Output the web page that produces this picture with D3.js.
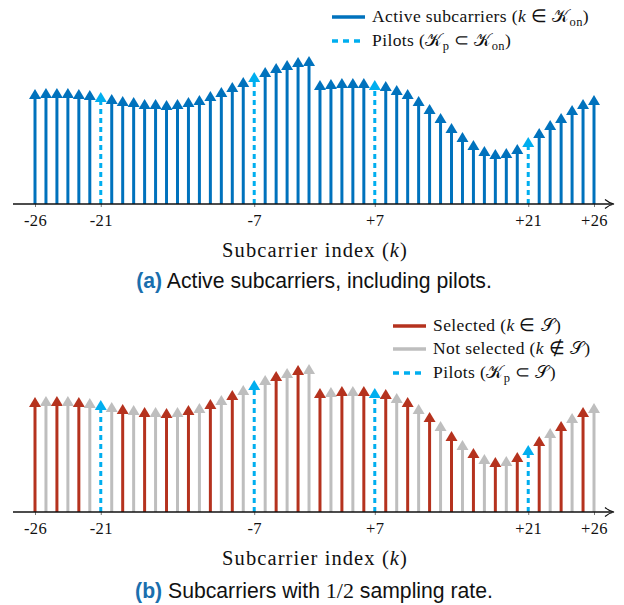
<!DOCTYPE html>
<html>
<head>
<meta charset="utf-8">
<script src="https://cdn.jsdelivr.net/npm/d3@7"></script>
<style>
  html, body { margin: 0; padding: 0; background: #fff; }
  svg { display: block; }
  .serif { font-family: "Liberation Serif", "Times New Roman", serif; }
  .sans { font-family: "Liberation Sans", Arial, sans-serif; }
</style>
</head>
<body>
<svg id="chart" width="624" height="605"></svg>
<script>
// Channel magnitude on each of the 52 active subcarriers (slot 0 = leftmost stem)
const amplitudes = [
  1.15, 1.16, 1.16, 1.16, 1.15, 1.14, 1.12, 1.10, 1.08, 1.07,
  1.05, 1.05, 1.04, 1.05, 1.07, 1.09, 1.13, 1.17, 1.22, 1.27,
  1.32, 1.37, 1.41, 1.44, 1.47, 1.48, 1.24, 1.25, 1.26, 1.26,
  1.26, 1.24, 1.23, 1.19, 1.15, 1.08, 1.00, 0.91, 0.81, 0.72,
  0.64, 0.58, 0.55, 0.56, 0.60, 0.67, 0.76, 0.84, 0.91, 0.99,
  1.05, 1.09
];
// Stems carrying pilots
const pilotSlots = [6, 20, 31, 45];
// 1 = kept by the 1/2-rate sampler, 0 = skipped
const selected = [
  1, 0, 1, 0, 1, 0, 1, 0, 1, 0,
  1, 0, 1, 0, 1, 0, 1, 0, 1, 0,
  1, 0, 1, 0, 1, 0, 1, 0, 1, 0,
  1, 0, 1, 0, 1, 0, 1, 0, 1, 0,
  1, 0, 1, 0, 1, 0, 1, 0, 1, 0,
  1, 0
];
// Labelled ticks on the subcarrier axis
const tickSlots = [0, 6, 20, 31, 45, 51];
const tickLabels = ["-26", "-21", "-7", "+7", "+21", "+26"];

const COLORS = {
  active: "#0072bd",
  pilot: "#00aeef",
  selected: "#b5321e",
  unselected: "#bebebe",
  caption: "#1a6fae"
};

const svg = d3.select("#chart");
const slots = amplitudes.map((v, i) => ({ slot: i, value: v, pilot: pilotSlots.includes(i), sel: selected[i] === 1 }));

const x = d3.scaleLinear().domain([0, amplitudes.length - 1]).range([35, 594]);

const HEAD_W = 12, HEAD_H = 10, STEM_W = 3;

function drawPanel(baseline, colorOf) {
  const y = d3.scaleLinear().domain([0, 1.5]).range([baseline, baseline - 150]);
  const g = svg.append("g");

  // stems
  g.selectAll("line.stem").data(slots).join("line")
    .attr("class", "stem")
    .attr("x1", d => x(d.slot)).attr("x2", d => x(d.slot))
    .attr("y1", baseline)
    .attr("y2", d => y(d.value) + HEAD_H - 1)
    .attr("stroke", d => colorOf(d))
    .attr("stroke-width", STEM_W)
    .attr("stroke-dasharray", d => d.pilot ? "5,4" : null);

  // arrow heads
  g.selectAll("path.head").data(slots).join("path")
    .attr("class", "head")
    .attr("d", d => {
      const cx = x(d.slot), ty = y(d.value);
      return `M${cx},${ty} L${cx + HEAD_W / 2},${ty + HEAD_H} L${cx - HEAD_W / 2},${ty + HEAD_H} Z`;
    })
    .attr("fill", d => colorOf(d));

  // axis with ticks
  const axis = d3.axisBottom(x)
    .tickValues(tickSlots)
    .tickFormat((d, i) => tickLabels[i])
    .tickSizeInner(3).tickSizeOuter(0).tickPadding(6);
  const ax = g.append("g").attr("transform", `translate(0,${baseline})`).call(axis);
  ax.select(".domain").remove();
  ax.selectAll(".tick line").attr("stroke", "#555").attr("stroke-width", 0.8);
  ax.selectAll(".tick text")
    .attr("class", "serif")
    .attr("font-size", 16.5)
    .attr("letter-spacing", 0.4)
    .attr("fill", "#111")
    .attr("dy", null)
    .attr("y", 22);

  g.append("line")
    .attr("x1", 13).attr("x2", 612)
    .attr("y1", baseline).attr("y2", baseline)
    .attr("stroke", "#111").attr("stroke-width", 1.4);
  g.append("path")
    .attr("d", `M605,${baseline - 4.5} Q609,${baseline - 1} 614,${baseline} Q609,${baseline + 1} 605,${baseline + 4.5}`)
    .attr("fill", "none").attr("stroke", "#111").attr("stroke-width", 1.2);

  // axis title
  const t = g.append("text")
    .attr("class", "serif")
    .attr("x", 315).attr("y", baseline + 53)
    .attr("text-anchor", "middle")
    .attr("font-size", 20.5)
    .attr("letter-spacing", 1.1)
    .attr("fill", "#111");
  t.append("tspan").text("Subcarrier index (");
  t.append("tspan").attr("font-style", "italic").text("k");
  t.append("tspan").text(")");
  return g;
}

function legendRow(g, lx, ly, color, dashed, parts) {
  g.append("line")
    .attr("x1", lx).attr("x2", lx + 33)
    .attr("y1", ly).attr("y2", ly)
    .attr("stroke", color).attr("stroke-width", 3.5)
    .attr("stroke-dasharray", dashed ? "6,5" : null);
  const t = g.append("text")
    .attr("class", "serif")
    .attr("x", lx + 40).attr("y", ly + 5)
    .attr("font-size", 17.5)
    .attr("letter-spacing", 0.4)
    .attr("fill", "#111");
  parts.forEach(p => {
    const s = t.append("tspan").text(p.t);
    if (p.i) s.attr("font-style", "italic");
    if (p.sub) s.attr("font-size", 12.5).attr("dy", 4);
    if (p.up) s.attr("dy", -4);
  });
}

function caption(yPos, tag, parts) {
  const t = svg.append("text")
    .attr("class", "sans")
    .attr("x", 314).attr("y", yPos)
    .attr("text-anchor", "middle")
    .attr("font-size", 21.2)
    .attr("fill", "#111");
  t.append("tspan").attr("font-weight", "bold").attr("fill", COLORS.caption).text(tag);
  parts.forEach(p => {
    const s = t.append("tspan").text(p.t);
    if (p.serif) s.attr("font-family", "Liberation Serif, serif").attr("font-size", 22);
  });
}

// (a) all active subcarriers
const panelA = drawPanel(204, d => d.pilot ? COLORS.pilot : COLORS.active);
legendRow(panelA, 332, 17, COLORS.active, false, [
  { t: "Active subcarriers (" }, { t: "k", i: true }, { t: " ∈ 𝒦" }, { t: "on", sub: true }, { t: ")", up: true }
]);
legendRow(panelA, 332, 41, COLORS.pilot, true, [
  { t: "Pilots (𝒦" }, { t: "p", sub: true }, { t: " ⊂ 𝒦", up: true }, { t: "on", sub: true }, { t: ")", up: true }
]);
caption(288, "(a)", [{ t: " Active subcarriers, including pilots." }]);

// (b) half-rate subcarrier selection
const panelB = drawPanel(512, d => d.pilot ? COLORS.pilot : (d.sel ? COLORS.selected : COLORS.unselected));
legendRow(panelB, 393, 326, COLORS.selected, false, [
  { t: "Selected (" }, { t: "k", i: true }, { t: " ∈ 𝒮)" }
]);
legendRow(panelB, 393, 349, COLORS.unselected, false, [
  { t: "Not selected (" }, { t: "k", i: true }, { t: " ∉ 𝒮)" }
]);
legendRow(panelB, 393, 373, COLORS.pilot, true, [
  { t: "Pilots (𝒦" }, { t: "p", sub: true }, { t: " ⊂ 𝒮)", up: true }
]);
caption(598, "(b)", [{ t: " Subcarriers with " }, { t: "1/2", serif: true }, { t: " sampling rate." }]);
</script>
</body>
</html>
